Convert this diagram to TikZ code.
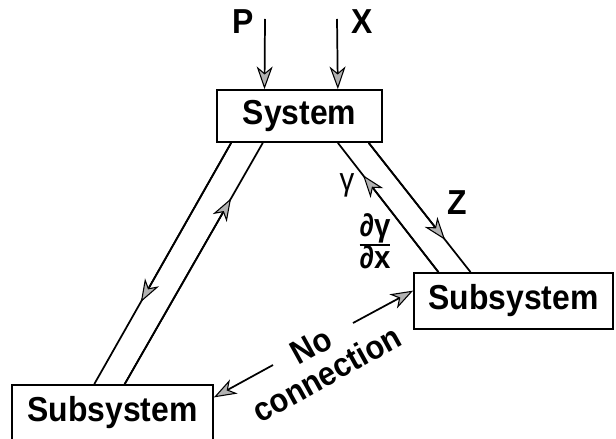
\documentclass[tikz,border=0pt]{standalone}
\usepackage{fontspec}
\setmainfont{Liberation Sans}[FakeStretch=0.92]
\usetikzlibrary{calc,arrows.meta}

\begin{document}
\begin{tikzpicture}[x=0.75pt,y=-0.75pt,line width=1.3pt,
  box/.style={draw,line width=1.3pt,inner sep=0pt,font=\fontsize{26}{28}\selectfont\bfseries},
  tip/.style={-{Stealth[length=17pt,width=12pt,inset=5pt,fill=gray!60,line width=0.8pt]}},
  lbl/.style={inner sep=0pt,font=\fontsize{26}{28}\selectfont\bfseries}]
  \useasboundingbox (0,0) rectangle (616,438);
  % boxes
  \node[box,minimum width=123.75pt,minimum height=39pt] (sys) at (299.5,116) {System};
  \node[box,minimum width=149.25pt,minimum height=42pt] (subR) at (513.5,301) {Subsystem};
  \node[box,minimum width=150.75pt,minimum height=42pt] (subL) at (112.5,413) {Subsystem};
  % inputs
  \coordinate (Pin) at (265,19); \coordinate (Xin) at (337,19);
  \coordinate (sP) at ($(sys.north west)!0.29!(sys.north east)$);
  \coordinate (sX) at ($(sys.north west)!0.73!(sys.north east)$);
  \draw[tip] (Pin) -- (sP); \node[lbl] (P) at (243,22) {P};
  \draw[tip] (Xin) -- (sX); \node[lbl] (X) at (362,22) {X};
  % left pair
  \coordinate (s1) at ($(sys.south west)!0.09!(sys.south east)$);
  \coordinate (s2) at ($(sys.south west)!0.28!(sys.south east)$);
  \coordinate (l1) at ($(subL.north west)!0.41!(subL.north east)$);
  \coordinate (l2) at ($(subL.north west)!0.56!(subL.north east)$);
  \draw (s1) -- (l1); \draw[tip] (s1) -- ($(s1)!0.66!(l1)$);
  \draw (l2) -- (s2); \draw[tip] (l2) -- ($(l2)!0.77!(s2)$);
  % right pair
  \coordinate (s3) at ($(sys.south west)!0.73!(sys.south east)$);
  \coordinate (s4) at ($(sys.south west)!0.915!(sys.south east)$);
  \coordinate (r1) at ($(subR.north west)!0.126!(subR.north east)$);
  \coordinate (r2) at ($(subR.north west)!0.286!(subR.north east)$);
  \draw (r1) -- (s3); \draw[tip] (r1) -- ($(r1)!0.75!(s3)$);
  \draw (s4) -- (r2); \draw[tip] (s4) -- ($(s4)!0.75!(r2)$);
  \node[inner sep=0pt,font=\fontsize{24}{26}\selectfont] (gam) at (347,185) {γ};
  \node[lbl] (Z) at (457,203) {Z};
  \node[inner sep=0pt,font=\fontsize{24}{26}\selectfont\bfseries] (dgdx) at (375,245)
    {\setlength{\arrayrulewidth}{1pt}\renewcommand{\arraystretch}{0.8}%
     \begin{tabular}{@{}c@{}}∂γ\\\hline ∂x\end{tabular}};
  % no connection
  \coordinate (nc1) at (273,365); \coordinate (nc2) at (353,323);
  \draw[tip] (nc1) -- ($(subL.north east)!0.23!(subL.south east)$);
  \draw[tip] (nc2) -- ($(subR.north west)!0.32!(subR.south west)$);
  \node[inner sep=0pt,rotate=29,align=center,font=\fontsize{25}{24}\selectfont\bfseries]
    (nocon) at (319,360) {No\\connection};
\end{tikzpicture}
\end{document}
